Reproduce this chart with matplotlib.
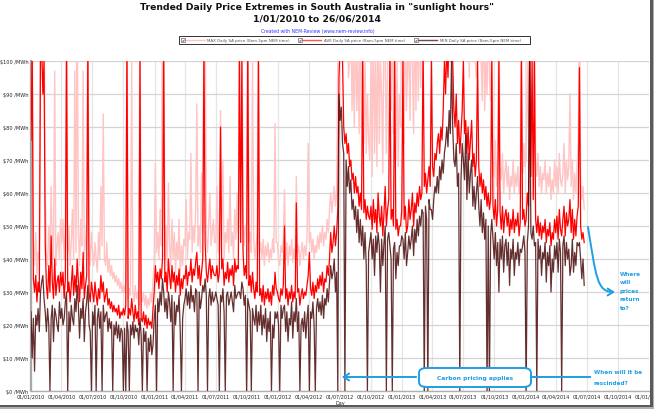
import matplotlib
matplotlib.use("Agg")
import matplotlib.pyplot as plt
from matplotlib.patches import Rectangle, FancyBboxPatch, FancyArrowPatch
from matplotlib.path import Path
import pandas as pd

# ---------------- data (half-weekly readings, $/MWh) ----------------
start_date = "2010-01-01"
step = "84h"          # two readings per week

max_vals = [
    120, 120, 45, 38, 48, 35, 42, 40, 120, 120, 100, 120, 60, 42, 38, 50, 40, 62, 45, 40, 97, 38, 44, 48, 40, 52,   # 2010 Q1
    45, 52, 40, 48, 120, 42, 50, 38, 45, 55, 40, 97, 42, 120, 48, 38, 52, 44, 97, 40, 46, 50, 120, 42, 38, 48,       # 2010 Q2
    42, 38, 45, 40, 36, 48, 40, 62, 44, 84, 40, 38, 45, 36, 40, 35, 38, 34, 36, 33, 35, 32, 34, 31, 33, 30,          # 2010 Q3
    32, 30, 33, 120, 28, 31, 29, 100, 30, 27, 32, 28, 30, 26, 120, 28, 27, 30, 26, 29, 25, 28, 26, 30, 27, 33,       # 2010 Q4
    40, 69, 42, 48, 40, 55, 44, 120, 120, 40, 50, 38, 63, 44, 38, 52, 40, 48, 36, 45, 40, 52, 35, 44, 38, 46,        # 2011 Q1
    44, 58, 40, 48, 46, 72, 42, 50, 45, 55, 87, 44, 50, 42, 66, 48, 120, 120, 47, 42, 50, 60, 44, 48, 52, 45,        # 2011 Q2
    45, 62, 42, 50, 85, 46, 70, 40, 48, 45, 52, 42, 65, 44, 48, 40, 55, 46, 60, 48, 120, 100, 120, 52, 44, 50,       # 2011 Q3
    50, 120, 45, 48, 42, 100, 46, 40, 44, 48, 120, 42, 45, 40, 46, 38, 44, 41, 45, 39, 43, 40, 46, 42, 81, 45,       # 2011 Q4
    45, 40, 38, 44, 42, 46, 61, 40, 45, 38, 44, 41, 46, 39, 43, 40, 65, 42, 44, 38, 42, 45, 40, 44, 41, 46,          # 2012 Q1
    75, 45, 48, 42, 46, 40, 44, 42, 47, 43, 48, 45, 50, 44, 48, 46, 52, 48, 55, 60, 54, 58, 62, 56, 60, 100,         # 2012 Q2
    120, 120, 120, 120, 100, 120, 100, 120, 95, 100, 120, 85, 100, 80, 120, 85, 100, 78, 120, 80, 120, 75, 100, 72, 90, 76,   # 2012 Q3
    70, 100, 65, 120, 72, 100, 68, 120, 75, 100, 90, 66, 120, 100, 72, 100, 120, 120, 85, 120, 78, 120, 70, 100, 68, 90,      # 2012 Q4
    80, 120, 120, 75, 120, 85, 100, 100, 82, 120, 100, 78, 120, 85, 120, 88, 120, 92, 120, 120, 100, 120, 100, 120, 110, 120, # 2013 Q1
    120, 110, 100, 115, 105, 110, 120, 105, 115, 120, 110, 120, 120, 120, 120, 120, 120, 120, 120, 115, 110, 120, 105, 110, 100, 110,  # 2013 Q2
    120, 120, 100, 120, 100, 120, 95, 120, 110, 100, 120, 100, 95, 120, 100, 120, 100, 88, 120, 85, 100, 90, 120, 95, 88, 120,  # 2013 Q3
    72, 65, 76, 62, 70, 120, 68, 64, 72, 60, 66, 70, 62, 68, 58, 65, 62, 70, 60, 66, 62, 68, 60, 64, 120, 66,        # 2013 Q4
    75, 68, 70, 100, 80, 120, 100, 120, 85, 110, 70, 65, 72, 62, 68, 60, 66, 64, 70, 60, 66, 62, 68, 58, 64, 60,     # 2014 Q1
    70, 62, 68, 60, 72, 64, 62, 66, 75, 60, 70, 64, 68, 90, 62, 70, 58, 66, 60, 68, 75, 120, 64, 58, 62, 55,         # 2014 Q2
]

ave_vals = [
    76, 105, 34, 30, 35, 27, 33, 30, 100, 105, 90, 100, 45, 32, 28, 38, 30, 47, 33, 28, 40, 29, 33, 35, 30, 36,
    32, 36, 28, 34, 105, 30, 33, 27, 32, 38, 29, 35, 30, 40, 33, 27, 36, 31, 42, 28, 32, 35, 105, 30, 27, 33,
    30, 27, 33, 29, 26, 31, 28, 35, 30, 33, 27, 29, 31, 26, 28, 25, 27, 24, 26, 24, 25, 23, 26, 22, 24, 23,
    25, 23, 26, 105, 22, 25, 23, 28, 24, 21, 26, 22, 24, 20, 100, 22, 21, 24, 20, 23, 19, 22, 20, 21, 19, 25,
    30, 38, 33, 36, 31, 37, 34, 40, 105, 33, 36, 30, 40, 35, 31, 38, 33, 36, 30, 35, 32, 37, 29, 34, 31, 35,
    34, 38, 32, 36, 35, 40, 33, 37, 35, 39, 42, 34, 38, 32, 36, 40, 105, 45, 36, 33, 37, 40, 34, 38, 36, 35,
    35, 38, 33, 36, 80, 37, 40, 32, 36, 34, 39, 33, 37, 35, 38, 32, 40, 36, 38, 37, 105, 45, 100, 42, 35, 38,
    34, 105, 32, 35, 30, 36, 31, 28, 33, 30, 100, 29, 31, 27, 32, 26, 30, 28, 31, 27, 30, 26, 32, 29, 36, 31,
    30, 28, 27, 31, 29, 32, 50, 28, 31, 26, 30, 28, 32, 27, 30, 28, 57, 30, 31, 26, 29, 31, 28, 30, 29, 32,
    35, 42, 31, 29, 33, 28, 32, 30, 34, 31, 35, 32, 36, 30, 34, 33, 38, 35, 40, 48, 42, 45, 50, 44, 48, 55,
    95, 105, 110, 100, 80, 75, 78, 72, 75, 68, 70, 64, 66, 60, 65, 60, 62, 56, 60, 55, 100, 54, 58, 52, 56, 53,
    52, 56, 49, 58, 51, 55, 48, 60, 53, 50, 56, 47, 54, 62, 50, 55, 58, 105, 52, 55, 50, 100, 49, 52, 47, 50,
    50, 55, 100, 52, 56, 48, 50, 58, 52, 55, 60, 50, 57, 54, 60, 56, 62, 58, 60, 105, 62, 66, 60, 64, 68, 62,
    100, 68, 65, 72, 70, 75, 78, 72, 80, 76, 85, 100, 90, 105, 95, 110, 100, 110, 100, 85, 80, 90, 75, 82, 72, 78,
    85, 100, 78, 82, 72, 80, 70, 76, 82, 68, 72, 65, 70, 100, 68, 62, 66, 60, 64, 58, 62, 56, 60, 55, 58, 100,
    56, 52, 58, 50, 55, 100, 54, 49, 56, 48, 53, 55, 50, 54, 47, 52, 49, 55, 48, 52, 50, 54, 47, 51, 100, 52,
    55, 50, 52, 60, 56, 110, 65, 100, 58, 100, 52, 48, 53, 47, 51, 46, 50, 48, 52, 45, 49, 47, 51, 44, 48, 46,
    52, 48, 53, 46, 55, 49, 47, 52, 56, 47, 54, 50, 52, 58, 48, 55, 46, 52, 47, 53, 56, 98, 50, 46, 48, 45,
]

min_vals = [
    24, 10, 22, 6, 23, 20, 25, 18, 30, 33, 35, 28, 24, 18, 25, 20, 0, 22, 26, 15, 25, 23, 20, 18, 27, 22,
    25, 20, 22, 27, 30, 0, 24, 18, 26, 22, 20, 28, 24, 32, 26, 16, 25, 22, 28, 15, 24, 27, 32, 20, 18, 0,
    24, 20, 26, 0, 22, 25, 19, 24, 0, 26, 21, 23, 24, 18, 22, 19, 21, 0, 20, 17, 21, 16, 20, 15, 19, 18,
    0, 19, 0, 21, 18, 0, 20, 17, 21, 16, 20, 18, 19, 14, 22, 17, 0, 19, 15, 18, 0, 16, 12, 17, 11, 14,
    22, 26, 0, 28, 24, 30, 26, 34, 30, 24, 28, 22, 30, 27, 21, 29, 0, 27, 20, 26, 24, 29, 18, 0, 22, 26,
    28, 31, 26, 30, 25, 32, 27, 29, 24, 31, 30, 0, 30, 25, 28, 32, 30, 34, 29, 0, 28, 31, 26, 30, 27, 28,
    30, 28, 26, 0, 29, 27, 31, 24, 0, 29, 30, 26, 28, 30, 27, 24, 32, 28, 29, 30, 30, 28, 33, 31, 26, 29,
    0, 28, 26, 24, 0, 25, 22, 20, 26, 18, 24, 20, 26, 17, 23, 19, 25, 15, 22, 18, 24, 0, 20, 16, 24, 22,
    24, 20, 0, 26, 22, 25, 26, 18, 24, 15, 22, 20, 27, 16, 24, 21, 28, 18, 24, 0, 20, 22, 18, 24, 16, 22,
    26, 0, 24, 22, 27, 20, 0, 25, 28, 24, 27, 23, 29, 22, 28, 26, 31, 27, 33, 38, 34, 36, 40, 30, 36, 0,
    90, 82, 86, 75, 72, 0, 70, 62, 68, 60, 64, 55, 58, 52, 56, 48, 55, 45, 52, 44, 50, 40, 48, 38, 0, 42,
    45, 48, 40, 46, 35, 47, 42, 48, 44, 30, 46, 38, 45, 50, 0, 46, 48, 44, 40, 0, 43, 45, 34, 42, 38, 44,
    44, 47, 46, 40, 48, 38, 42, 47, 43, 46, 50, 41, 49, 45, 52, 47, 53, 50, 55, 54, 0, 56, 52, 0, 58, 55,
    55, 52, 58, 62, 60, 65, 60, 68, 64, 70, 66, 72, 75, 80, 74, 85, 78, 100, 80, 70, 68, 75, 62, 66, 0, 64,
    75, 70, 64, 78, 58, 72, 60, 66, 70, 56, 62, 55, 60, 65, 56, 50, 58, 48, 54, 46, 52, 0, 50, 0, 47, 52,
    46, 40, 48, 38, 45, 30, 46, 40, 47, 36, 44, 46, 38, 45, 32, 43, 40, 46, 35, 42, 40, 45, 38, 43, 42, 44,
    47, 42, 0, 45, 50, 100, 48, 46, 50, 44, 45, 0, 46, 40, 44, 35, 42, 40, 45, 33, 42, 38, 44, 30, 40, 36,
    44, 40, 45, 36, 46, 42, 0, 44, 47, 38, 45, 40, 43, 35, 38, 46, 36, 42, 38, 45, 44, 45, 40, 34, 40, 32,
]

y_ticks = [0, 10, 20, 30, 40, 50, 60, 70, 80, 90, 100]
legend_labels = ["MAX Daily SA price (8am-5pm NEM time)",
                 "AVE Daily SA price (8am-5pm NEM time)",
                 "MIN Daily SA price (8am-5pm NEM time)"]

dates = pd.date_range(start_date, periods=len(max_vals), freq=step)

# ---------------- figure ----------------
W, H = 654, 410
fig = plt.figure(figsize=(W / 100, H / 100), dpi=100)
fig.patch.set_facecolor("white")

def fx(x):
    return x / W

def fy(y):
    return 1 - y / H

ax = fig.add_axes([fx(31), fy(392), (649 - 31) / W, (392 - 62) / H])

C_MAX = "#ffc4c4"
C_AVE = "#ff0000"
C_MIN = "#4a0a0a"

ax.plot(dates, max_vals, color=C_MAX, lw=1.0, zorder=2)
ax.plot(dates, ave_vals, color=C_AVE, lw=0.9, zorder=3)
ax.plot(dates, min_vals, color=C_MIN, lw=0.9, alpha=0.85, zorder=4)

ax.set_ylim(0, 100)
ax.set_xlim(pd.Timestamp("2010-01-01"), pd.Timestamp("2015-01-01"))
ax.set_yticks(y_ticks)
ax.set_yticklabels([f"${v} /MWh" for v in y_ticks], fontsize=3.6, color="#222222")
xt = pd.date_range("2010-01-01", "2015-01-01", freq="QS")
ax.set_xticks(xt)
ax.set_xticklabels([d.strftime("%d/%m/%Y") for d in xt], fontsize=3.5, color="#222222")
ax.tick_params(axis="both", length=0, pad=2)
ax.set_xlabel("Day", fontsize=3.6, labelpad=1, color="#222222")

ax.set_axisbelow(True)
ax.yaxis.grid(True, color="#d4d4d4", lw=0.9)
ax.xaxis.grid(True, color="#e6e6e6", lw=0.9)
for s in ["top", "right"]:
    ax.spines[s].set_visible(False)
ax.spines["left"].set_color("#a8a8a8")
ax.spines["left"].set_linewidth(1.6)
ax.spines["bottom"].set_color("#b0b0b0")
ax.spines["bottom"].set_linewidth(1.0)

# ---------------- titles ----------------
fig.text(fx(317), fy(7), 'Trended Daily Price Extremes in South Australia in "sunlight hours"',
         ha="center", va="center", fontsize=6.7, fontweight="bold", color="#111111")
fig.text(fx(317), fy(18.5), "1/01/2010 to 26/06/2014",
         ha="center", va="center", fontsize=6.7, fontweight="bold", color="#111111")
fig.text(fx(318), fy(31), "Created with NEM-Review (www.nem-review.info)",
         ha="center", va="center", fontsize=3.3, color="#3333ff")

# ---------------- legend ----------------
fig.patches.append(Rectangle((fx(181), fy(46)), fx(531) - fx(181), fy(39) - fy(46),
                             transform=fig.transFigure, facecolor="#888888",
                             edgecolor="none", zorder=5))
fig.patches.append(Rectangle((fx(179), fy(44.5)), fx(529.5) - fx(179), fy(37) - fy(44.5),
                             transform=fig.transFigure, facecolor="white",
                             edgecolor="#333333", lw=0.7, zorder=6))
entries = [(181, 186, 205, 207, C_MAX),
           (298, 302, 321, 324, "#ff5555"),
           (414, 417, 437, 440, "#7a4a4a")]
for (cb, l0, l1, tx, col), lab in zip(entries, legend_labels):
    fig.patches.append(Rectangle((fx(cb), fy(43)), fx(4), fy(39) - fy(43),
                                 transform=fig.transFigure, facecolor="white",
                                 edgecolor="#444444", lw=0.4, zorder=7))
    fig.text(fx(cb + 2), fy(41), "\u2714", fontsize=3, ha="center", va="center",
             color="#111111", zorder=8)
    fig.lines.append(plt.Line2D([fx(l0), fx(l1)], [fy(41), fy(41)],
                                transform=fig.transFigure, color=col, lw=1.0, zorder=7))
    fig.text(fx(tx), fy(41), lab, fontsize=2.9, ha="left", va="center",
             color="#555555", zorder=8)

# ---------------- annotations ----------------
BLUE = "#1e9fe4"
box = FancyBboxPatch((fx(419), fy(388)), fx(531) - fx(419), fy(369) - fy(388),
                     boxstyle="round,pad=0,rounding_size=0.012",
                     transform=fig.transFigure, facecolor="white",
                     edgecolor=BLUE, lw=1.4, zorder=10)
fig.patches.append(box)
fig.text(fx(475), fy(378.5), "Carbon pricing applies", fontsize=4.3, fontweight="bold",
         color=BLUE, ha="center", va="center", zorder=11)

arr = FancyArrowPatch((fx(419), fy(378)), (fx(339), fy(378)),
                      transform=fig.transFigure, arrowstyle="->,head_length=4,head_width=2.5",
                      color=BLUE, lw=1.4, zorder=10)
fig.patches.append(arr)
fig.lines.append(plt.Line2D([fx(531), fx(590)], [fy(378), fy(378)],
                            transform=fig.transFigure, color=BLUE, lw=1.4, zorder=10))
fig.text(fx(594), fy(373), "When will it be", fontsize=4.1, fontweight="bold",
         color=BLUE, ha="left", va="center")
fig.text(fx(594), fy(383.5), "rescinded?", fontsize=4.1, fontweight="bold",
         color=BLUE, ha="left", va="center")

verts = [(fx(588), fy(228)), (fx(596), fy(278)), (fx(597), fy(293)), (fx(615), fy(293))]
curve = FancyArrowPatch(path=Path(verts, [Path.MOVETO, Path.CURVE4, Path.CURVE4, Path.CURVE4]),
                        transform=fig.transFigure,
                        arrowstyle="->,head_length=4,head_width=2.5",
                        color=BLUE, lw=1.4, zorder=10)
fig.patches.append(curve)
for i, wtxt in enumerate(["Where", "will", "prices", "return", "to?"]):
    fig.text(fx(620), fy(274 + i * 8.6), wtxt, fontsize=4.1, fontweight="bold",
             color=BLUE, ha="left", va="center")

# ---------------- outer frame shadow ----------------
fig.patches.append(Rectangle((fx(649.5), fy(408)), fx(3), fy(0) - fy(408),
                             transform=fig.transFigure, facecolor="#5a5a5a",
                             edgecolor="none", zorder=20))
fig.patches.append(Rectangle((fx(652.5), fy(409)), fx(1.5), fy(0) - fy(409),
                             transform=fig.transFigure, facecolor="#b0b0b0",
                             edgecolor="none", zorder=20))
fig.patches.append(Rectangle((fx(0), fy(408)), fx(652), fy(405.5) - fy(408),
                             transform=fig.transFigure, facecolor="#5a5a5a",
                             edgecolor="none", zorder=20))
fig.patches.append(Rectangle((fx(0), fy(410)), fx(654), fy(408) - fy(410),
                             transform=fig.transFigure, facecolor="#b0b0b0",
                             edgecolor="none", zorder=20))

fig.savefig("out.png", dpi=100, facecolor="white")
